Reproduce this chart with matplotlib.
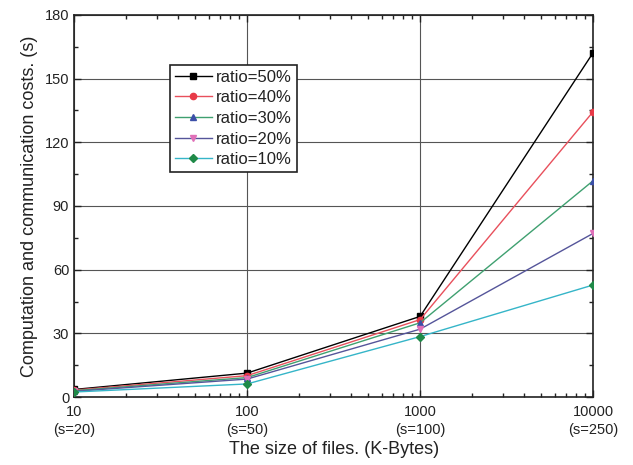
import numpy as np
import matplotlib.pyplot as plt
from matplotlib.ticker import MultipleLocator, LogLocator, NullFormatter, FixedLocator, FixedFormatter

plt.rcParams['font.family'] = ['Liberation Sans', 'DejaVu Sans']

# file sizes (K-Bytes)
file_sizes = [10, 100, 1000, 10000]
tick_labels = ['10\n(s=20)', '100\n(s=50)', '1000\n(s=100)', '10000\n(s=250)']

ratio_50 = [3.6, 11.3, 38.0, 162.2]
ratio_40 = [3.3, 10.1, 36.5, 134.4]
ratio_30 = [3.0, 9.2, 35.0, 101.9]
ratio_20 = [2.7, 8.5, 32.0, 77.1]
ratio_10 = [2.4, 6.2, 28.5, 52.8]

names = ['ratio=50%', 'ratio=40%', 'ratio=30%', 'ratio=20%', 'ratio=10%']
series = [ratio_50, ratio_40, ratio_30, ratio_20, ratio_10]
line_colors = ['#000000', '#e8505c', '#3fa070', '#55559a', '#35b5c8']
marker_colors = ['#000000', '#e83a48', '#3c4fa8', '#e070b8', '#1f8a48']
markers = ['s', 'o', '^', 'v', 'D']
msizes = [4.5, 4.5, 5, 5, 4]


def main():
  fig = plt.figure(figsize=(6.33, 4.65), dpi=100)
  ax = fig.add_axes([0.117, 0.146, 0.820, 0.822])

  for i in range(len(series)):
    ax.plot(file_sizes, series[i], color=line_colors[i], lw=1.0,
            marker=markers[i], ms=msizes[i], mfc=marker_colors[i],
            mec=marker_colors[i], label=names[i], zorder=3)

  ax.set_xscale('log')
  ax.set_xlim(10, 10000)
  ax.set_ylim(0, 180)
  ax.xaxis.set_major_locator(FixedLocator(file_sizes))
  ax.xaxis.set_major_formatter(FixedFormatter(tick_labels))
  ax.xaxis.set_minor_locator(LogLocator(base=10, subs=np.arange(2, 10)))
  ax.xaxis.set_minor_formatter(NullFormatter())
  ax.yaxis.set_major_locator(MultipleLocator(30))
  ax.yaxis.set_minor_locator(MultipleLocator(15))

  ax.tick_params(which='both', direction='in', top=True, right=True,
                 labelsize=10.5, color='#222222', labelcolor='#222222')
  ax.tick_params(which='major', length=5, width=1)
  ax.tick_params(which='minor', length=3, width=1)
  ax.tick_params(axis='x', pad=6)
  for lbl in ax.get_xticklabels():
    lbl.set_linespacing(1.35)

  ax.grid(True, which='major', color='#555555', lw=0.8)
  for sp in ax.spines.values():
    sp.set_color('#222222')
    sp.set_linewidth(1.2)

  ax.set_xlabel('The size of files. (K-Bytes)', fontsize=13, labelpad=3, color='#222222')
  ax.set_ylabel('Computation and communication costs. (s)', fontsize=13, labelpad=5,
                color='#222222')

  leg = ax.legend(loc='upper left', bbox_to_anchor=(0.185, 0.87), fontsize=12,
                  frameon=True, fancybox=False, handlelength=2.2,
                  handletextpad=0.25, borderpad=0.3, labelspacing=0.34,
                  borderaxespad=0)
  leg.get_frame().set_edgecolor('#222222')
  leg.get_frame().set_linewidth(1.2)
  leg.get_frame().set_alpha(1)
  for t in leg.get_texts():
    t.set_color('#222222')

  fig.savefig('out.png', dpi=100)


if __name__ == '__main__':
  main()
